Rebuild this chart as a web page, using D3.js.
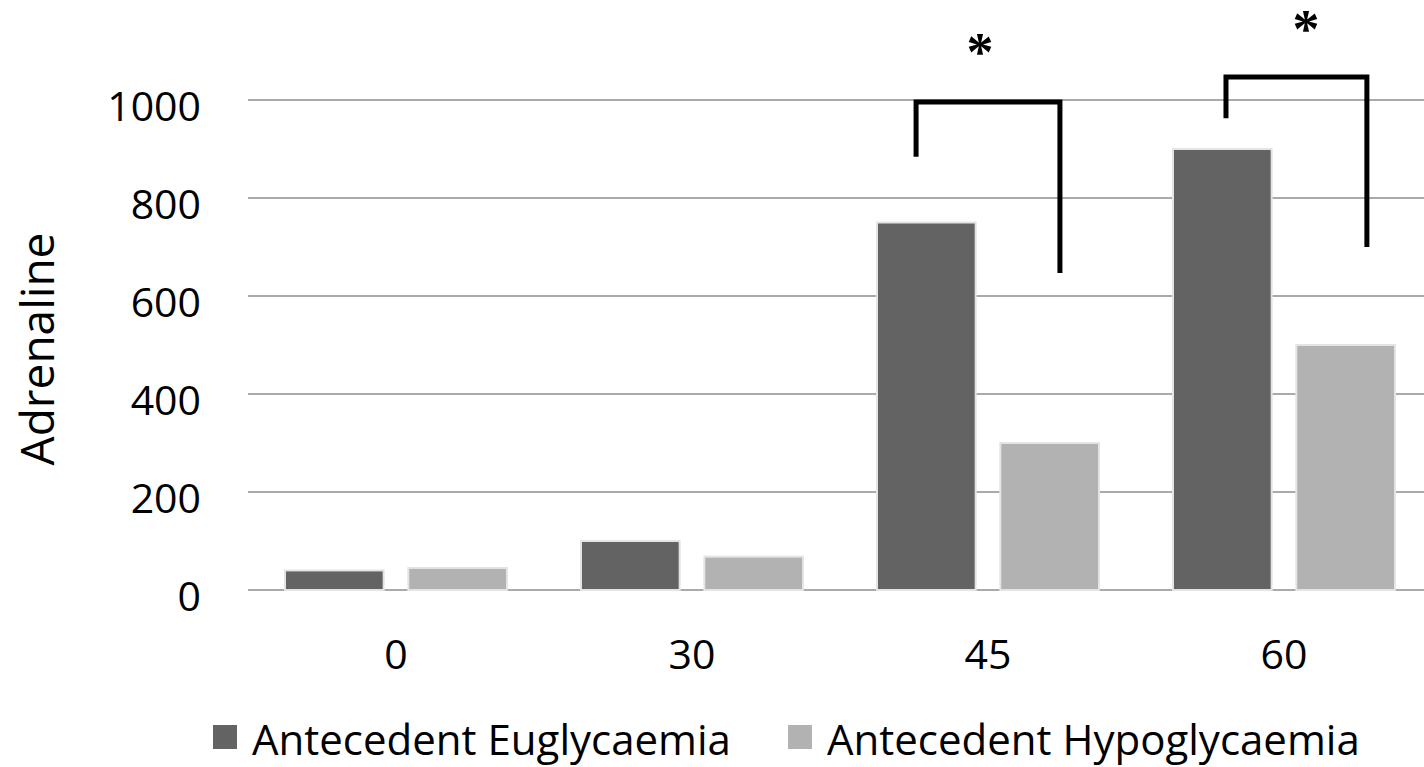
<!DOCTYPE html>
<html>
<head>
<meta charset="utf-8">
<script src="https://cdn.jsdelivr.net/npm/d3@7"></script>
<style>
  body { margin: 0; background: #fff; }
  text { font-family: "Open Sans", sans-serif; fill: #000; }
</style>
</head>
<body>
<script>
// data
var categories = ["0", "30", "45", "60"];
var seriesNames = ["Antecedent Euglycaemia", "Antecedent Hypoglycaemia"];
var euglycaemia = [40, 100, 750, 900];
var hypoglycaemia = [45, 68, 300, 500];
var yTicks = [0, 200, 400, 600, 800, 1000];

// significance brackets (values in y units)
var bracketCats = ["45", "60"];
var bracketLeftEnd = [884, 963];
var bracketTop = [996, 1047];
var bracketRightEnd = [647, 700];
var starLevel = [1116, 1163];

var W = 1424, H = 767;
var svg = d3.select("body").append("svg")
  .attr("width", W)
  .attr("height", H);

var x0 = d3.scaleBand().domain(categories).range([248, 1432]);
var x1 = d3.scaleBand().domain(seriesNames).range([37, 259]).paddingInner(0.2);
var y = d3.scaleLinear().domain([0, 1000]).range([590, 100]);
var colors = d3.scaleOrdinal().domain(seriesNames).range(["#636363", "#b2b2b2"]);

// gridlines
svg.append("g").selectAll("line").data(yTicks)
  .enter().append("line")
  .attr("x1", 248).attr("x2", W)
  .attr("y1", d => y(d)).attr("y2", d => y(d))
  .attr("stroke", "#8e8e8e")
  .attr("stroke-width", 1.5);

// y axis tick labels
svg.append("g").selectAll("text").data(yTicks)
  .enter().append("text")
  .attr("x", 201)
  .attr("y", d => y(d) + 5)
  .attr("text-anchor", "end")
  .attr("dominant-baseline", "central")
  .attr("font-size", 41)
  .text(d => d);

svg.append("text")
  .attr("transform", "translate(54,349) rotate(-90)")
  .attr("text-anchor", "middle")
  .attr("font-size", 46)
  .text("Adrenaline");

// bars
var rows = categories.map((c, i) => ({ cat: c, vals: [euglycaemia[i], hypoglycaemia[i]] }));
var groups = svg.append("g").selectAll("g").data(rows)
  .enter().append("g")
  .attr("transform", d => "translate(" + x0(d.cat) + ",0)");

groups.selectAll("rect").data(d => d.vals.map((v, j) => ({ name: seriesNames[j], v: v })))
  .enter().append("rect")
  .attr("x", d => x1(d.name))
  .attr("y", d => y(d.v))
  .attr("width", x1.bandwidth())
  .attr("height", d => y(0) - y(d.v))
  .attr("fill", d => colors(d.name))
  .attr("stroke", "#e4e4e4")
  .attr("stroke-width", 2);

// x labels
svg.append("g").selectAll("text").data(categories)
  .enter().append("text")
  .attr("x", d => x0(d) + x0.bandwidth() / 2)
  .attr("y", 669)
  .attr("text-anchor", "middle")
  .attr("font-size", 41)
  .text(d => d);

// brackets: left end, right end and star as fractions of the band
var span = { "45": [0.257, 0.743, 0.473], "60": [0.304, 0.780, 0.574] };
bracketCats.forEach(function (c, i) {
  var xl = x0(c) + span[c][0] * x0.bandwidth();
  var xr = x0(c) + span[c][1] * x0.bandwidth();
  var path = d3.path();
  path.moveTo(xl, y(bracketLeftEnd[i]));
  path.lineTo(xl, y(bracketTop[i]));
  path.lineTo(xr, y(bracketTop[i]));
  path.lineTo(xr, y(bracketRightEnd[i]));
  svg.append("path")
    .attr("d", path.toString())
    .attr("fill", "none")
    .attr("stroke", "#000")
    .attr("stroke-width", 5);
  svg.append("text")
    .attr("x", x0(c) + span[c][2] * x0.bandwidth())
    .attr("y", y(starLevel[i]) + 27)
    .attr("text-anchor", "middle")
    .style("font-family", "'Liberation Serif', serif")
    .attr("font-weight", "bold")
    .attr("font-size", 54)
    .text("*");
});

// legend
var legend = svg.append("g").selectAll("g").data(seriesNames)
  .enter().append("g")
  .attr("transform", (d, i) => "translate(" + [213, 788][i] + ",725)");
legend.append("rect")
  .attr("width", 24).attr("height", 24)
  .attr("fill", d => colors(d));
legend.append("text")
  .attr("x", 39)
  .attr("y", 30)
  .attr("font-size", 42)
  .text(d => d);
</script>
</body>
</html>
